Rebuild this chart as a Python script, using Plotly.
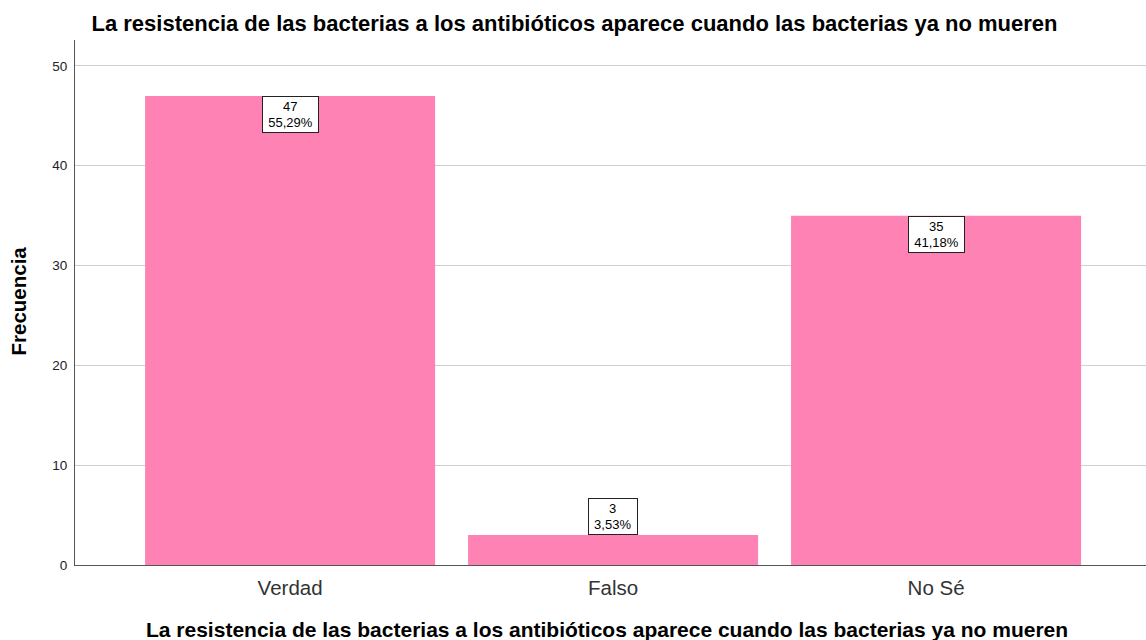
import plotly.graph_objects as go

categories = ["Verdad", "Falso", "No Sé"]
counts = [47, 3, 35]
percents = ["55,29%", "3,53%", "41,18%"]
y_ticks = [0, 10, 20, 30, 40, 50]

title_text = "La resistencia de las bacterias a los antibióticos aparece cuando las bacterias ya no mueren"
bar_color = "#FF82B4"
FONT = "Liberation Sans, Arial"

fig = go.Figure()
fig.add_trace(go.Bar(
    x=categories, y=counts, marker=dict(color=bar_color, line=dict(width=0)),
    hoverinfo="skip", showlegend=False,
))

annotations = []
for c, v, p in zip(categories, counts, percents):
    inside = v > 10
    annotations.append(dict(
        x=c, y=v, xref="x", yref="y", text=f"{v}<br>{p}", showarrow=False,
        yanchor="top" if inside else "bottom", xanchor="center",
        font=dict(family=FONT, size=13, color="#000"),
        bgcolor="white", bordercolor="#222", borderwidth=1, borderpad=1,
        width=7.5 * len(p) + 8, height=33, align="center", valign="middle",
    ))
# axis titles as annotations for exact placement
annotations.append(dict(
    text=f"<b>{title_text}</b>", xref="paper", yref="paper", x=0.497, y=-0.1238,
    xanchor="center", yanchor="middle", showarrow=False,
    font=dict(family=FONT, size=21, color="#000"),
))
annotations.append(dict(
    text="<b>Frecuencia</b>", xref="paper", yref="paper", x=-0.0532, y=0.502,
    xanchor="center", yanchor="middle", showarrow=False, textangle=-90,
    font=dict(family=FONT, size=20.5, color="#000"),
))
fig.update_layout(annotations=annotations)

fig.update_layout(
    width=1146, height=640,
    paper_bgcolor="white", plot_bgcolor="white",
    margin=dict(l=75, r=0, t=40, b=75),
    bargap=0.102,
    title=dict(text=f"<b>{title_text}</b>", x=0.5013, xanchor="center", y=0.964, yanchor="middle",
               font=dict(family=FONT, size=22, color="#000")),
    font=dict(family=FONT, color="#000"),
    xaxis=dict(
        range=[-0.666, 2.65], showgrid=False, zeroline=False, automargin=False,
        showline=True, linecolor="#555", linewidth=1, ticks="",
        tickfont=dict(size=20.5, color="#333"), ticklabelstandoff=4,
    ),
    yaxis=dict(
        range=[0, 52.6], tickvals=y_ticks, showgrid=True, gridcolor="#d0d0d0", gridwidth=1,
        zeroline=False, showline=True, linecolor="#555", linewidth=1, ticks="", automargin=False,
        tickfont=dict(size=13.5, color="#222"), ticklabelstandoff=4,
    ),
)

fig.write_html(
    "out.html",
    config={"displayModeBar": False},
    post_script="document.body.style.margin='0';document.body.style.overflow='hidden';",
)
